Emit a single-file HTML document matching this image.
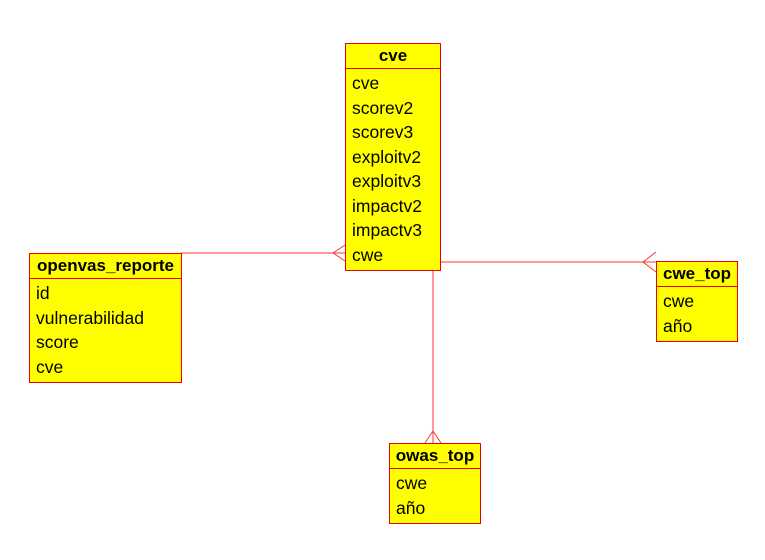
<!DOCTYPE html>
<html><head><meta charset="utf-8"><style>
body{margin:0;width:765px;height:560px;background:#fff;position:relative;overflow:hidden;font-family:"Liberation Sans",Arial,sans-serif}
.t{position:absolute;background:#ff0;border:1px solid #e00;box-sizing:border-box}
.h{font-weight:bold;font-size:17px;text-align:center;border-bottom:1px solid #e00;box-sizing:border-box;line-height:24px}
.r{font-size:17.5px;padding-left:6px;height:24.5px;line-height:28px}
svg{position:absolute;left:0;top:0}
</style></head><body>
<svg width="765" height="560" stroke="#f33" fill="none" stroke-width="1">
<line x1="181" y1="253" x2="345" y2="253"/>
<polyline points="345,245 333,253 345,261"/>
<line x1="440" y1="262" x2="656" y2="262"/>
<polyline points="656,252 643,262 656,272"/>
<line x1="433" y1="270" x2="433" y2="443"/>
<polyline points="425,443 433,431 441,443"/>
</svg>
<div class="t" style="left:345px;top:43px;width:96px;height:228px">
<div class="h" style="height:25px">cve</div>
<div class="r">cve</div><div class="r">scorev2</div><div class="r">scorev3</div><div class="r">exploitv2</div><div class="r">exploitv3</div><div class="r">impactv2</div><div class="r">impactv3</div><div class="r">cwe</div>
</div>
<div class="t" style="left:29px;top:253px;width:153px;height:130px">
<div class="h" style="height:25px">openvas_reporte</div>
<div class="r">id</div><div class="r">vulnerabilidad</div><div class="r">score</div><div class="r">cve</div>
</div>
<div class="t" style="left:656px;top:261px;width:82px;height:81px">
<div class="h" style="height:25px">cwe_top</div>
<div class="r">cwe</div><div class="r">año</div>
</div>
<div class="t" style="left:389px;top:443px;width:92px;height:81px">
<div class="h" style="height:25px">owas_top</div>
<div class="r">cwe</div><div class="r">año</div>
</div>
</body></html>
